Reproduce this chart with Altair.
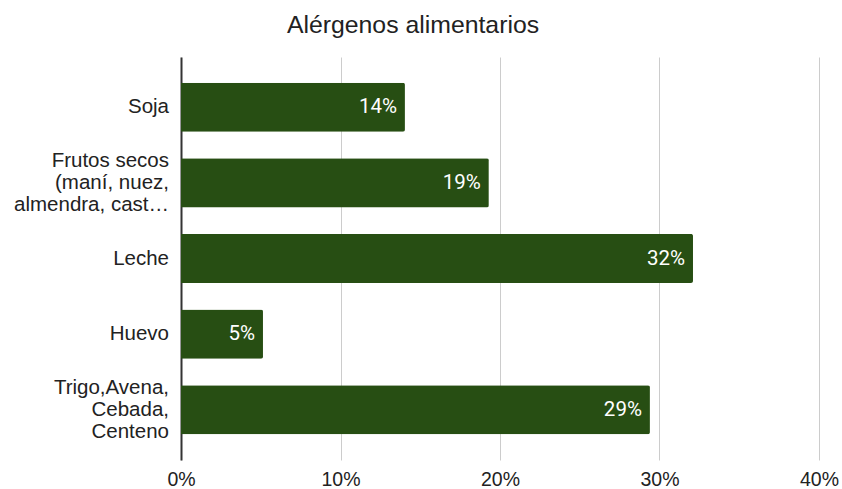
import altair as alt
import pandas as pd

categories = ["Soja", "Frutos secos|(maní, nuez,|almendra, cast…", "Leche", "Huevo", "Trigo,Avena,|Cebada,|Centeno"]
values = [0.1404, 0.193, 0.321, 0.0514, 0.294]
x_ticks = [0, 0.1, 0.2, 0.3, 0.4]

df = pd.DataFrame({"cat": categories, "val": values})

# one row per label line, with its position relative to the band centre
rows = []
for c in categories:
    parts = c.split("|")
    n = len(parts)
    for i, p in enumerate(parts):
        rows.append({"cat": c, "line": p, "pos": i - (n - 1) / 2})
lines_df = pd.DataFrame(rows)

bar_color = "#274e13"
line_h = 22

y_enc = alt.Y("cat:N", sort=categories,
              scale=alt.Scale(paddingInner=0.35, paddingOuter=0.34),
              axis=alt.Axis(title=None, labels=False,
                            ticks=False, domain=True, domainColor="#333333", domainWidth=2,
                            grid=False))

bars = alt.Chart(df).mark_bar(color=bar_color, cornerRadiusEnd=2).encode(
    y=y_enc,
    x=alt.X("val:Q", scale=alt.Scale(domain=[0, 0.4], nice=False),
            axis=alt.Axis(title=None, format=".0%", values=x_ticks,
                          labelFont="Liberation Sans", labelFontSize=19.5,
                          labelColor="#222222", labelPadding=10, labelFlush=False,
                          grid=True, gridColor="#cccccc", gridWidth=1,
                          domain=False, ticks=False)),
)

labels = alt.Chart(df).mark_text(align="right", baseline="middle", dx=-8, color="white",
                                 font="Roboto", fontSize=20.5, fontWeight="normal").encode(
    y=alt.Y("cat:N", sort=categories),
    x="val:Q",
    text=alt.Text("val:Q", format=".0%"),
)

layers = [bars, labels]
for p in [-1, 0, 1]:
    layers.append(
        alt.Chart(lines_df).transform_filter(alt.datum.pos == p).mark_text(
            align="right", baseline="middle", dy=p * line_h,
            font="Liberation Sans", fontSize=20.5, color="#222222"
        ).encode(
            y=alt.Y("cat:N", sort=categories),
            x=alt.value(-12),
            text="line:N",
        )
    )

chart = alt.layer(*layers).properties(
    width=638, height=403,
    title=alt.TitleParams("Alérgenos alimentarios", font="Liberation Sans", fontSize=24.8,
                          fontWeight="normal", color="#222222", anchor="middle",
                          dx=-87, offset=19),
    padding={"left": 181, "top": 57, "right": 23, "bottom": 29},
    autosize="none",
    background="white",
).configure_view(stroke=None)

chart.save("out.html", embed_options={"renderer": "svg", "actions": False})
